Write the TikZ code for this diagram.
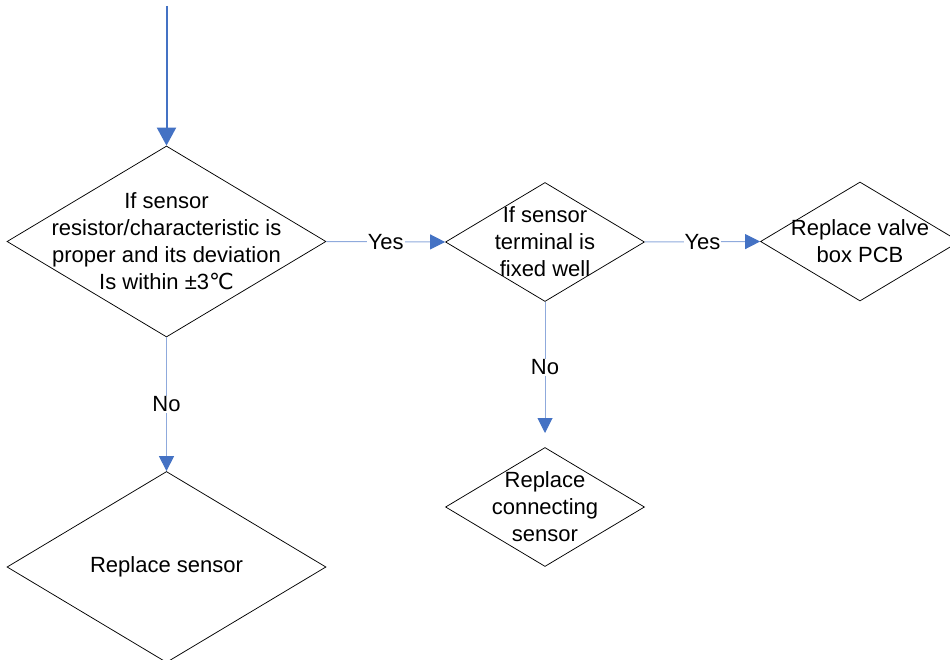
\documentclass[tikz,border=0pt]{standalone}
\usepackage{fontspec}
\setmainfont{Liberation Sans}
\newfontfamily\symfont{DejaVu Sans}
\usetikzlibrary{shapes.geometric,arrows.meta}
\definecolor{tipblue}{HTML}{4472C4}
\definecolor{lineblue}{HTML}{8FAADC}
\begin{document}
\begin{tikzpicture}[x=1pt,y=-1pt,
  dia/.style={draw=black, line width=0.75pt, shape=diamond, inner sep=0pt},
  txt/.style={font=\fontsize{22}{27}\selectfont, align=center, inner sep=0pt},
  flow/.style={draw=lineblue, line width=1pt, -{Triangle[length=15pt,width=15pt,color=tipblue]}},
  topflow/.style={draw=tipblue, line width=2pt, -{Triangle[length=18pt,width=19pt,color=tipblue]}},
  lab/.style={font=\fontsize{22}{27}\selectfont, fill=white, inner sep=1pt}]
\useasboundingbox (0,0) rectangle (950,660);
\clip (0,0) rectangle (950,660);

\node[dia, minimum width=319pt, minimum height=191pt] (d1) at (166.5,241.5) {};
\node[dia, minimum width=199pt, minimum height=119pt] (d2) at (545,242) {};
\node[dia, minimum width=199pt, minimum height=119pt] (d3) at (860,241.5) {};
\node[dia, minimum width=199pt, minimum height=119pt] (d4) at (545,507) {};
\node[dia, minimum width=319pt, minimum height=191pt] (d5) at (166.5,567) {};

\node[txt] (t1) at (d1) {If sensor\\resistor/characteristic is\\proper and its deviation\\Is within ±3{\symfont ℃}};
\node[txt] (t2) at (d2) {If sensor\\terminal is\\fixed well};
\node[txt] (t3) at (d3) {Replace valve\\box PCB};
\node[txt] (t4) at (d4) {Replace\\connecting\\sensor};
\node[txt] (t5) at (d5) {Replace sensor};

\coordinate (start) at (166.5,6);
\coordinate (d4in) at (545,433);

\draw[topflow] (start) -- (d1.north);
\draw[flow] (d1.east) -- node[lab] (y1) {Yes} (d2.west);
\draw[flow] (d2.east) -- node[lab] (y2) {Yes} (d3.west);
\draw[flow] (d2.south) -- node[lab] (n2) {No} (d4in);
\draw[flow] (d1.south) -- node[lab] (n1) {No} (d5.north);
\end{tikzpicture}
\end{document}
